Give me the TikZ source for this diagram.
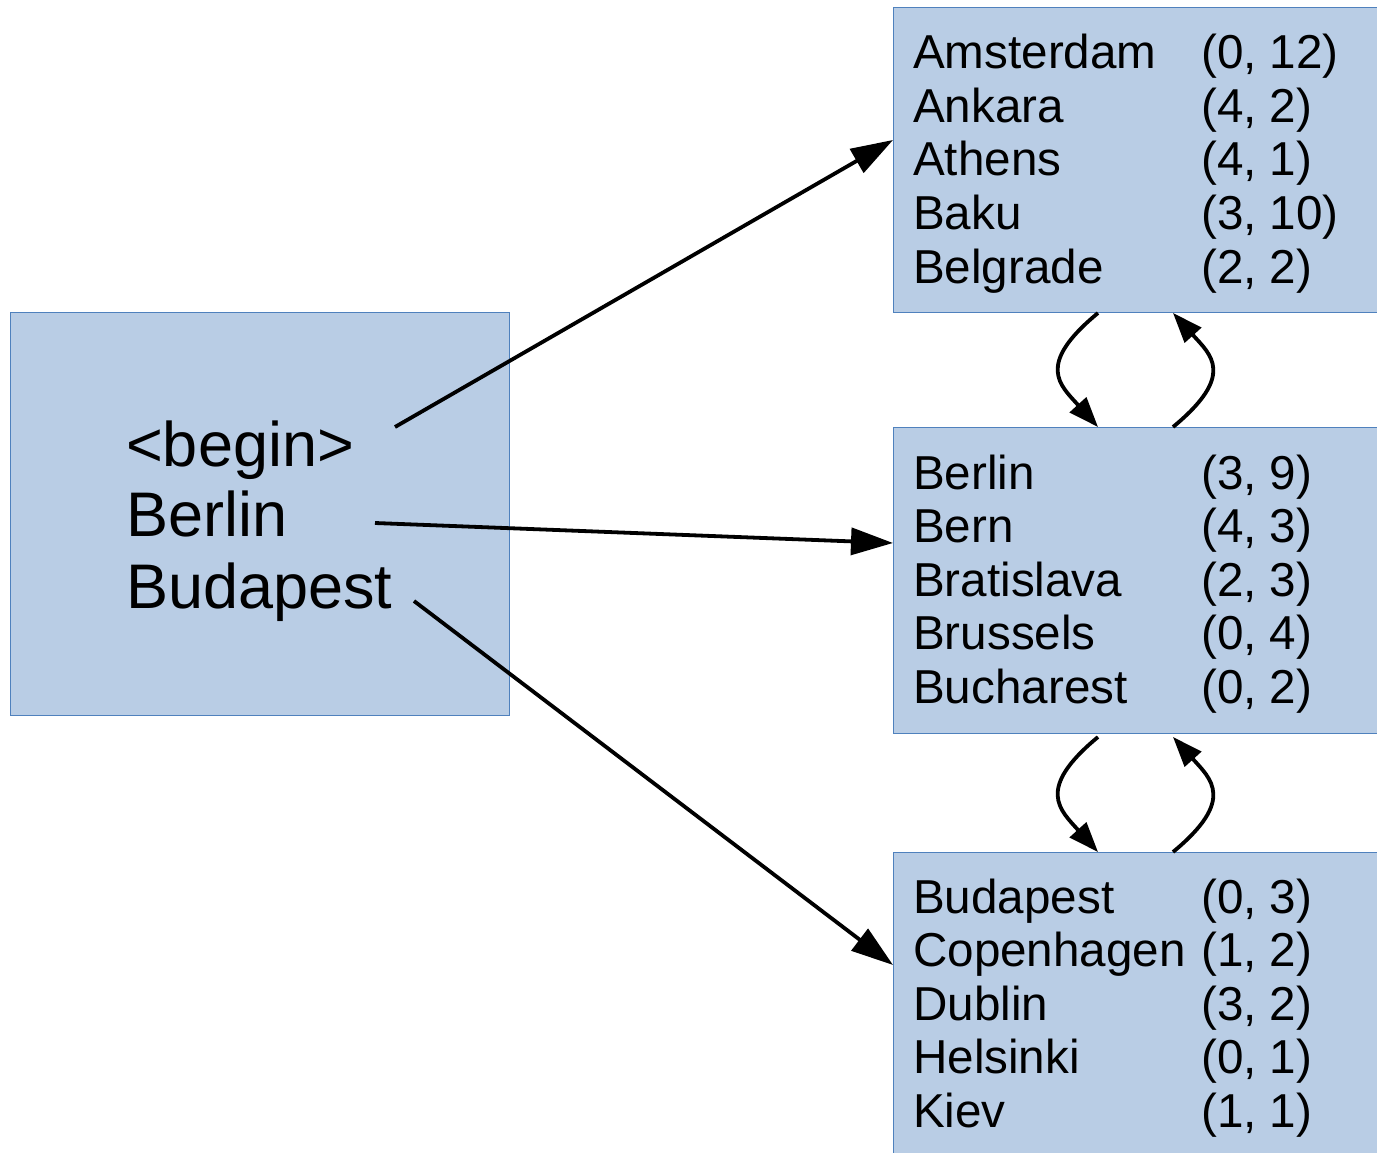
\documentclass[tikz,border=0pt]{standalone}
\usepackage{fontspec}
\setmainfont{Liberation Sans}
\usetikzlibrary{arrows.meta}
\definecolor{boxfill}{RGB}{185,205,229}
\definecolor{boxline}{RGB}{79,129,189}
\begin{document}
\begin{tikzpicture}[x=1pt,y=-1pt,
  box/.style={draw=boxline, fill=boxfill, line width=1pt, anchor=north west, inner sep=0pt},
  cell/.style={anchor=base west, inner sep=0pt, font=\fontsize{47.6pt}{54pt}\selectfont},
  big/.style={anchor=base west, inner sep=0pt, font=\fontsize{63pt}{71pt}\selectfont},
  link/.style={line width=3.8pt, -{Triangle[length=42pt,width=27pt]}},
  loop/.style={line width=3.8pt, -{Triangle[length=30pt,width=22pt]}}]
\useasboundingbox (0,0) rectangle (1377,1153);

% start box
\node[box, minimum width=499pt, minimum height=403pt] (start) at (10,312) {};
\node[big] (s1) at (126,466) {<begin>};
\node[big] (s2) at (126,536) {Berlin};
\node[big] (s3) at (126,608) {Budapest};

% bucket boxes
\node[box, minimum width=520pt, minimum height=305pt] (ba) at (893,7) {};
\node[box, minimum width=520pt, minimum height=306pt] (bb) at (893,427) {};
\node[box, minimum width=520pt, minimum height=320pt] (bc) at (893,852) {};

\foreach \name/\val [count=\i from 0] in {Amsterdam/{(0, 12)}, Ankara/{(4, 2)}, Athens/{(4, 1)}, Baku/{(3, 10)}, Belgrade/{(2, 2)}} {
  \node[cell] (a\i) at (913,69+53.5*\i) {\name};
  \node[cell] (av\i) at (1201,69+53.5*\i) {\val};
}
\foreach \name/\val [count=\i from 0] in {Berlin/{(3, 9)}, Bern/{(4, 3)}, Bratislava/{(2, 3)}, Brussels/{(0, 4)}, Bucharest/{(0, 2)}} {
  \node[cell] (b\i) at (913,489+53.5*\i) {\name};
  \node[cell] (bv\i) at (1201,489+53.5*\i) {\val};
}
\foreach \name/\val [count=\i from 0] in {Budapest/{(0, 3)}, Copenhagen/{(1, 2)}, Dublin/{(3, 2)}, Helsinki/{(0, 1)}, Kiev/{(1, 1)}} {
  \node[cell] (c\i) at (913,913+53.5*\i) {\name};
  \node[cell] (cv\i) at (1201,913+53.5*\i) {\val};
}

% arrows from the start keys to their buckets
\coordinate (p1) at (395,427);
\coordinate (p2) at (375,523);
\coordinate (p3) at (414,601);
\coordinate (q1) at (893,140);
\coordinate (q2) at (893,543);
\coordinate (q3) at (893,965);
\draw[link] (p1) -- (q1);
\draw[link] (p2) -- (q2);
\draw[link] (p3) -- (q3);

% next / previous links between buckets
\coordinate (ab1) at (1098,313);
\coordinate (ab2) at (1098,427);
\coordinate (ab3) at (1173,427);
\coordinate (ab4) at (1173,313);
\draw[loop] (ab1) .. controls (1035,365) and (1060,385) .. (ab2);
\draw[loop] (ab3) .. controls (1236,375) and (1211,355) .. (ab4);

\coordinate (bc1) at (1098,737);
\coordinate (bc2) at (1098,852);
\coordinate (bc3) at (1173,852);
\coordinate (bc4) at (1173,737);
\draw[loop] (bc1) .. controls (1035,789) and (1060,810) .. (bc2);
\draw[loop] (bc3) .. controls (1236,800) and (1211,779) .. (bc4);
\end{tikzpicture}
\end{document}
